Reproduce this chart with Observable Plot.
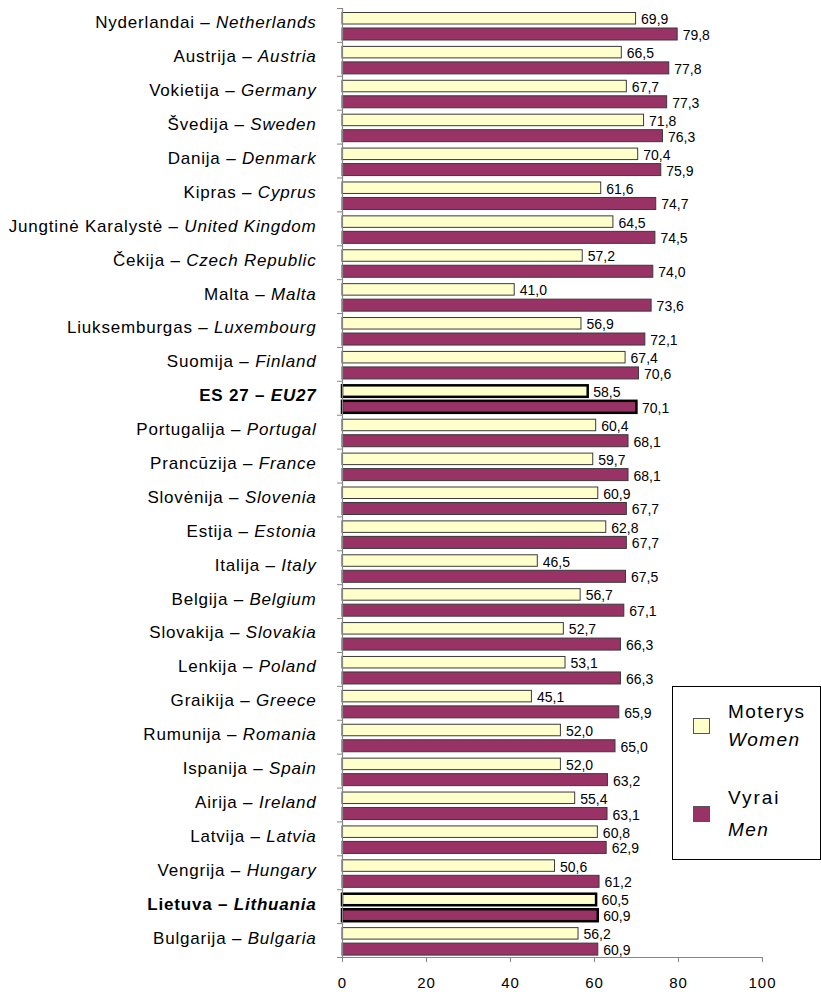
<!DOCTYPE html>
<html>
<head>
<meta charset="utf-8">
<script src="https://cdn.jsdelivr.net/npm/d3@7"></script>
<script src="https://cdn.jsdelivr.net/npm/@observablehq/plot@0.6"></script>
<style>
  html, body { margin: 0; padding: 0; background: #fff; }
  #wrap { position: relative; width: 821px; height: 992px; font-family: "Liberation Sans", Arial, sans-serif; }
  g[aria-label="y-axis tick label"] text { letter-spacing: 0.8px; }
  g[aria-label="x-axis tick label"] text { letter-spacing: 1px; }
  g[aria-label="values"] text { letter-spacing: 0.5px; }
  #legend { position: absolute; left: 672px; top: 686px; width: 147px; height: 172px; border: 1px solid #000; background: #fff; }
  #legend .sw { position: absolute; left: 20px; width: 15px; height: 14px; border: 1px solid #555; }
  #legend .tx { position: absolute; left: 55px; font-size: 19px; line-height: 1; letter-spacing: 1.4px; color: #000; white-space: nowrap; }
</style>
</head>
<body>
<div id="wrap"></div>
<script>
const countriesLt = ["Nyderlandai","Austrija","Vokietija","Švedija","Danija","Kipras","Jungtinė Karalystė","Čekija","Malta","Liuksemburgas","Suomija","ES 27","Portugalija","Prancūzija","Slovėnija","Estija","Italija","Belgija","Slovakija","Lenkija","Graikija","Rumunija","Ispanija","Airija","Latvija","Vengrija","Lietuva","Bulgarija"];
const countriesEn = ["Netherlands","Austria","Germany","Sweden","Denmark","Cyprus","United Kingdom","Czech Republic","Malta","Luxembourg","Finland","EU27","Portugal","France","Slovenia","Estonia","Italy","Belgium","Slovakia","Poland","Greece","Romania","Spain","Ireland","Latvia","Hungary","Lithuania","Bulgaria"];
const women = [69.9,66.5,67.7,71.8,70.4,61.6,64.5,57.2,41.0,56.9,67.4,58.5,60.4,59.7,60.9,62.8,46.5,56.7,52.7,53.1,45.1,52.0,52.0,55.4,60.8,50.6,60.5,56.2];
const men = [79.8,77.8,77.3,76.3,75.9,74.7,74.5,74.0,73.6,72.1,70.6,70.1,68.1,68.1,67.7,67.7,67.5,67.1,66.3,66.3,65.9,65.0,63.2,63.1,62.9,61.2,60.9,60.9];
const highlighted = ["EU27","Lithuania"];
const xTicks = [0,20,40,60,80,100];
const seriesNames = [["Moterys","Women"],["Vyrai","Men"]];

const rows = countriesEn.map((en, i) => ({
  label: countriesLt[i] + " – " + en,
  lt: countriesLt[i], en, women: women[i], men: men[i],
  hl: highlighted.includes(en)
}));
const byLabel = new Map(rows.map(d => [d.label, d]));
const fmt = v => v.toFixed(1).replace(".", ",");

const W = 821, H = 992, mT = 8, mB = 35, mL = 342, mR = 59;
const band = (H - mT - mB) / rows.length;
const pxPerUnit = (W - mL - mR) / 100;
const yellow = "#FFFFCC", purple = "#993366", gray = "#868686";
const wTop = 4.5, wBot = band - 16, mTop = 20, mBot = band - 32;

const chart = Plot.plot({
  width: W, height: H,
  marginTop: mT, marginBottom: mB, marginLeft: mL, marginRight: mR,
  style: {fontFamily: "'Liberation Sans', Arial, sans-serif", fontSize: "14px", color: "#000", background: "#fff"},
  x: {domain: [0, 100], axis: null},
  y: {domain: rows.map(d => d.label), padding: 0, round: false, axis: null},
  marks: [
    Plot.barX(rows.filter(d => !d.hl), {x: "women", y: "label", fill: yellow, stroke: "#3a3a3a", strokeWidth: 1, insetTop: wTop, insetBottom: wBot}),
    Plot.barX(rows.filter(d => !d.hl), {x: "men", y: "label", fill: purple, stroke: "#3a3a3a", strokeWidth: 1, insetTop: mTop, insetBottom: mBot}),
    Plot.barX(rows.filter(d => d.hl), {x: "women", y: "label", fill: yellow, stroke: "#000", strokeWidth: 2.5, insetTop: wTop, insetBottom: wBot}),
    Plot.barX(rows.filter(d => d.hl), {x: "men", y: "label", fill: purple, stroke: "#000", strokeWidth: 2.5, insetTop: mTop, insetBottom: mBot}),
    Plot.text(rows, {x: "women", y: "label", text: d => fmt(d.women), dx: 5, dy: -(band / 2 - (wTop + 16) / 2) + 1, textAnchor: "start", fontSize: 14, fill: "#000", ariaLabel: "values"}),
    Plot.text(rows, {x: "men", y: "label", text: d => fmt(d.men), dx: 5, dy: (mTop + 32) / 2 - band / 2 + 1, textAnchor: "start", fontSize: 14, fill: "#000", ariaLabel: "values"}),
    Plot.ruleX([0], {stroke: gray, strokeWidth: 1.2}),
    Plot.ruleY([rows[rows.length - 1].label], {x1: 0, x2: 100, dy: band / 2, stroke: gray, strokeWidth: 1.2}),
    Plot.ruleY(rows.map(d => d.label), {x1: -5 / pxPerUnit, x2: 0, dy: -band / 2, stroke: gray}),
    Plot.ruleY([rows[rows.length - 1].label], {x1: -5 / pxPerUnit, x2: 0, dy: band / 2, stroke: gray}),
    Plot.axisX({ticks: xTicks, tickSize: 5, tickPadding: 15, fontSize: 15, stroke: gray, label: null}),
    Plot.axisY({tickSize: 0, tickPadding: 26, fontSize: 17, dy: -2.5, label: null})
  ]
});

d3.select(chart).selectAll('g[aria-label="y-axis tick label"] text').each(function () {
  const t = this.textContent;
  const row = byLabel.get(t);
  if (!row) return;
  const sel = d3.select(this);
  sel.text(null);
  sel.append("tspan").text(row.lt + " – ").attr("font-weight", row.hl ? "bold" : null);
  sel.append("tspan").text(row.en).attr("font-style", "italic").attr("font-weight", row.hl ? "bold" : null);
});

const wrap = document.getElementById("wrap");
wrap.appendChild(chart);

const legend = document.createElement("div");
legend.id = "legend";
legend.innerHTML = `
  <div class="sw" style="top:31px;background:${yellow}"></div>
  <div class="tx" style="top:15px">${seriesNames[0][0]}</div>
  <div class="tx" style="top:43px;font-style:italic">${seriesNames[0][1]}</div>
  <div class="sw" style="top:119px;background:${purple}"></div>
  <div class="tx" style="top:101px;letter-spacing:2px">${seriesNames[1][0]}</div>
  <div class="tx" style="top:133px;font-style:italic">${seriesNames[1][1]}</div>`;
wrap.appendChild(legend);
</script>
</body>
</html>
